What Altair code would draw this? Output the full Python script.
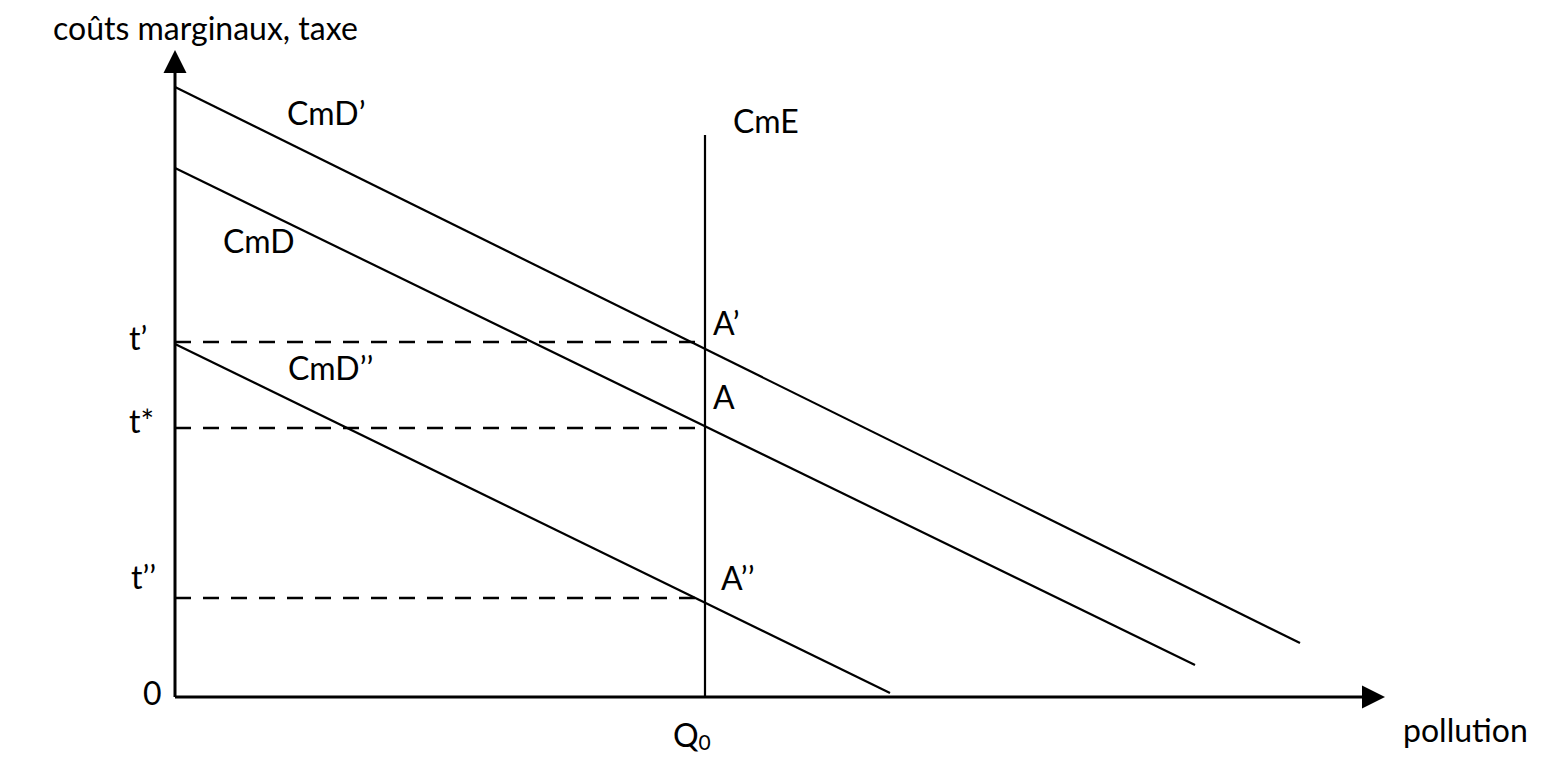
import altair as alt
import pandas as pd

# --- diagram values (abstract units) ---
Q0 = 5.30
X_MAX = 12.10
Y_MAX = 6.47

curve_names = ["CmD’", "CmD", "CmD’’"]
curve_x0 = [0.0, 0.0, 0.0]
curve_y0 = [6.10, 5.29, 3.53]
curve_x1 = [11.25, 10.20, 7.15]
curve_y1 = [0.54, 0.32, 0.04]

cme_bottom = 0.0
cme_top = 5.62

tax_names = ["t’", "t*", "t’’"]
tax_values = [3.55, 2.69, 0.99]
dash_end = 5.20

label_texts = ["coûts marginaux, taxe", "CmD’", "CmE", "CmD", "CmD’’",
               "A’", "A", "A’’", "t’", "t*", "t’’", "0", "Q", "pollution"]
label_x = [-1.22, 1.12, 5.58, 0.48, 1.13, 5.38, 5.38, 5.46, -0.46, -0.46, -0.44, -0.32, 4.98, 12.28]
label_y = [6.57, 5.72, 5.64, 4.44, 3.17, 3.62, 2.88, 1.07, 3.47, 2.64, 1.08, -0.08, -0.50, -0.45]

sub_text = ["0"]
sub_x = [5.235]
sub_y = [-0.53]

ARROW = 0.23

xs = alt.Scale(domain=[0, X_MAX], nice=False, zero=False)
ys = alt.Scale(domain=[0, Y_MAX], nice=False, zero=False)
FONT = "Lato"

curves = pd.DataFrame({"name": curve_names, "x": curve_x0, "y": curve_y0,
                       "x2": curve_x1, "y2": curve_y1})
curve_layer = alt.Chart(curves).mark_rule(color="black", strokeWidth=2.2).encode(
    x=alt.X("x:Q", scale=xs, axis=None),
    y=alt.Y("y:Q", scale=ys, axis=None),
    x2="x2:Q", y2="y2:Q")

cme = pd.DataFrame({"x": [Q0], "y": [cme_bottom], "y2": [cme_top]})
cme_layer = alt.Chart(cme).mark_rule(color="black", strokeWidth=2.2).encode(
    x=alt.X("x:Q", scale=xs, axis=None),
    y=alt.Y("y:Q", scale=ys, axis=None), y2="y2:Q")

dashes = pd.DataFrame({"name": tax_names, "x": [0.0] * 3, "x2": [dash_end] * 3, "y": tax_values})
dash_layer = alt.Chart(dashes).mark_rule(color="black", strokeWidth=2.5, strokeDash=[16, 12]).encode(
    x=alt.X("x:Q", scale=xs, axis=None), x2="x2:Q",
    y=alt.Y("y:Q", scale=ys, axis=None))

axes = pd.DataFrame({"x": [0.0, 0.0], "y": [0.0, 0.0],
                     "x2": [0.0, X_MAX - ARROW], "y2": [Y_MAX - ARROW, 0.0]})
axis_layer = alt.Chart(axes).mark_rule(color="black", strokeWidth=3).encode(
    x=alt.X("x:Q", scale=xs, axis=None),
    y=alt.Y("y:Q", scale=ys, axis=None), x2="x2:Q", y2="y2:Q")

up = pd.DataFrame({"x": [0.0], "y": [Y_MAX]})
up_layer = alt.Chart(up).mark_point(shape="M0,0L-1,2L1,2Z", filled=True, color="black",
                                    size=529, opacity=1).encode(
    x=alt.X("x:Q", scale=xs, axis=None), y=alt.Y("y:Q", scale=ys, axis=None))
right = pd.DataFrame({"x": [X_MAX], "y": [0.0]})
right_layer = alt.Chart(right).mark_point(shape="M0,0L-2,-1L-2,1Z", filled=True, color="black",
                                          size=529, opacity=1).encode(
    x=alt.X("x:Q", scale=xs, axis=None), y=alt.Y("y:Q", scale=ys, axis=None))

labels = pd.DataFrame({"t": label_texts, "x": label_x, "y": label_y})
label_layer = alt.Chart(labels).mark_text(font=FONT, fontSize=32, align="left",
                                          baseline="alphabetic", color="black").encode(
    x=alt.X("x:Q", scale=xs, axis=None), y=alt.Y("y:Q", scale=ys, axis=None), text="t:N")

subs = pd.DataFrame({"t": sub_text, "x": sub_x, "y": sub_y})
sub_layer = alt.Chart(subs).mark_text(font=FONT, fontSize=21, align="left",
                                      baseline="alphabetic", color="black").encode(
    x=alt.X("x:Q", scale=xs, axis=None), y=alt.Y("y:Q", scale=ys, axis=None), text="t:N")

chart = alt.layer(axis_layer, dash_layer, curve_layer, cme_layer, up_layer, right_layer,
                  label_layer, sub_layer).properties(
    width=1210, height=647,
    background="white",
    autosize=alt.AutoSizeParams(type="none"),
    padding={"left": 167, "top": 42, "right": 152, "bottom": 60},
).configure_view(stroke=None)

chart.save("out.html", embed_options={"renderer": "svg", "actions": False})
